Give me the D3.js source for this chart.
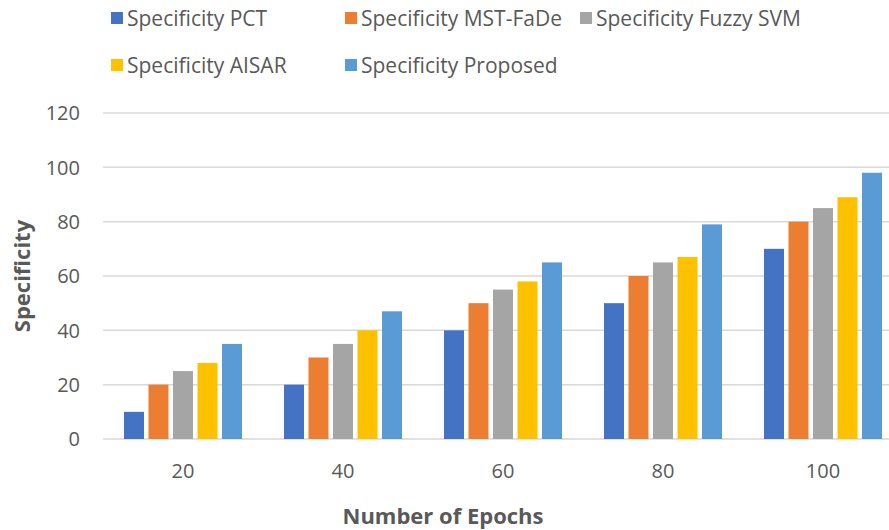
<!DOCTYPE html>
<html>
<head>
<meta charset="utf-8">
<script src="https://cdn.jsdelivr.net/npm/d3@7"></script>
<style>
  body { margin: 0; background: #fff; }
  text { font-family: "Open Sans", "Liberation Sans", sans-serif; fill: #595959; }
</style>
</head>
<body>
<div id="chart"></div>
<script>
const W = 889, H = 530;

const epochs = ["20", "40", "60", "80", "100"];
const seriesNames = ["Specificity PCT", "Specificity MST-FaDe", "Specificity Fuzzy SVM", "Specificity AISAR", "Specificity Proposed"];
const pct = [10, 20, 40, 50, 70];
const mstFade = [20, 30, 50, 60, 80];
const fuzzySvm = [25, 35, 55, 65, 85];
const aisar = [28, 40, 58, 67, 89];
const proposed = [35, 47, 65, 79, 98];
const yTicks = [0, 20, 40, 60, 80, 100, 120];
const colors = ["#4472C4", "#ED7D31", "#A5A5A5", "#FFC000", "#5B9BD5"];

const values = [pct, mstFade, fuzzySvm, aisar, proposed];

let svg = d3.select("#chart").append("svg")
    .attr("width", W).attr("height", H);

let plotLeft = 103, plotRight = 903, plotTop = 113, plotBottom = 439;

let y = d3.scaleLinear().domain([0, 120]).range([plotBottom, plotTop]);
let x0 = d3.scaleBand().domain(epochs).range([plotLeft, plotRight]);
let x1 = d3.scaleBand().domain(seriesNames).range([-59, 59]).paddingInner(0.184);

// gridlines
svg.append("g").selectAll("line").data(yTicks).enter().append("line")
    .attr("x1", plotLeft).attr("x2", W)
    .attr("y1", d => y(d)).attr("y2", d => y(d))
    .attr("stroke", "#D9D9D9").attr("stroke-width", 1.5);

// y tick labels
svg.append("g").selectAll("text").data(yTicks).enter().append("text")
    .attr("x", 80).attr("y", d => y(d))
    .attr("dy", "0.36em")
    .attr("text-anchor", "end")
    .style("font-size", "20px")
    .text(d => d);

// x tick labels
svg.append("g").selectAll("text").data(epochs).enter().append("text")
    .attr("x", d => x0(d) + x0.bandwidth() / 2)
    .attr("y", 478)
    .attr("text-anchor", "middle")
    .style("font-size", "20px")
    .text(d => d);

// bars
let groups = svg.append("g").selectAll("g").data(epochs).enter().append("g")
    .attr("transform", d => `translate(${x0(d) + x0.bandwidth() / 2},0)`);

groups.selectAll("rect")
    .data((d, i) => seriesNames.map((s, j) => ({ s: s, v: values[j][i], c: colors[j] })))
    .enter().append("rect")
    .attr("x", d => x1(d.s))
    .attr("width", x1.bandwidth())
    .attr("y", d => y(d.v))
    .attr("height", d => plotBottom - y(d.v))
    .attr("fill", d => d.c);

// axis titles
svg.append("text")
    .attr("transform", `translate(30,${(plotTop + plotBottom) / 2}) rotate(-90)`)
    .attr("text-anchor", "middle")
    .style("font-size", "22px").style("font-weight", "bold")
    .text("Specificity");

svg.append("text")
    .attr("x", 443).attr("y", 524)
    .attr("text-anchor", "middle")
    .style("font-size", "22px").style("font-weight", "bold")
    .text("Number of Epochs");

// legend
let legendPos = [[111, 18], [345, 18], [580, 18], [111, 65], [345, 65]];
let legend = svg.append("g").selectAll("g").data(seriesNames).enter().append("g")
    .attr("transform", (d, i) => `translate(${legendPos[i][0]},${legendPos[i][1]})`);
legend.append("rect")
    .attr("x", 0).attr("y", -6).attr("width", 12).attr("height", 12)
    .attr("fill", (d, i) => colors[i]);
legend.append("text")
    .attr("x", 16).attr("y", 0).attr("dy", "0.36em")
    .style("font-size", "21px")
    .text(d => d);
</script>
</body>
</html>
